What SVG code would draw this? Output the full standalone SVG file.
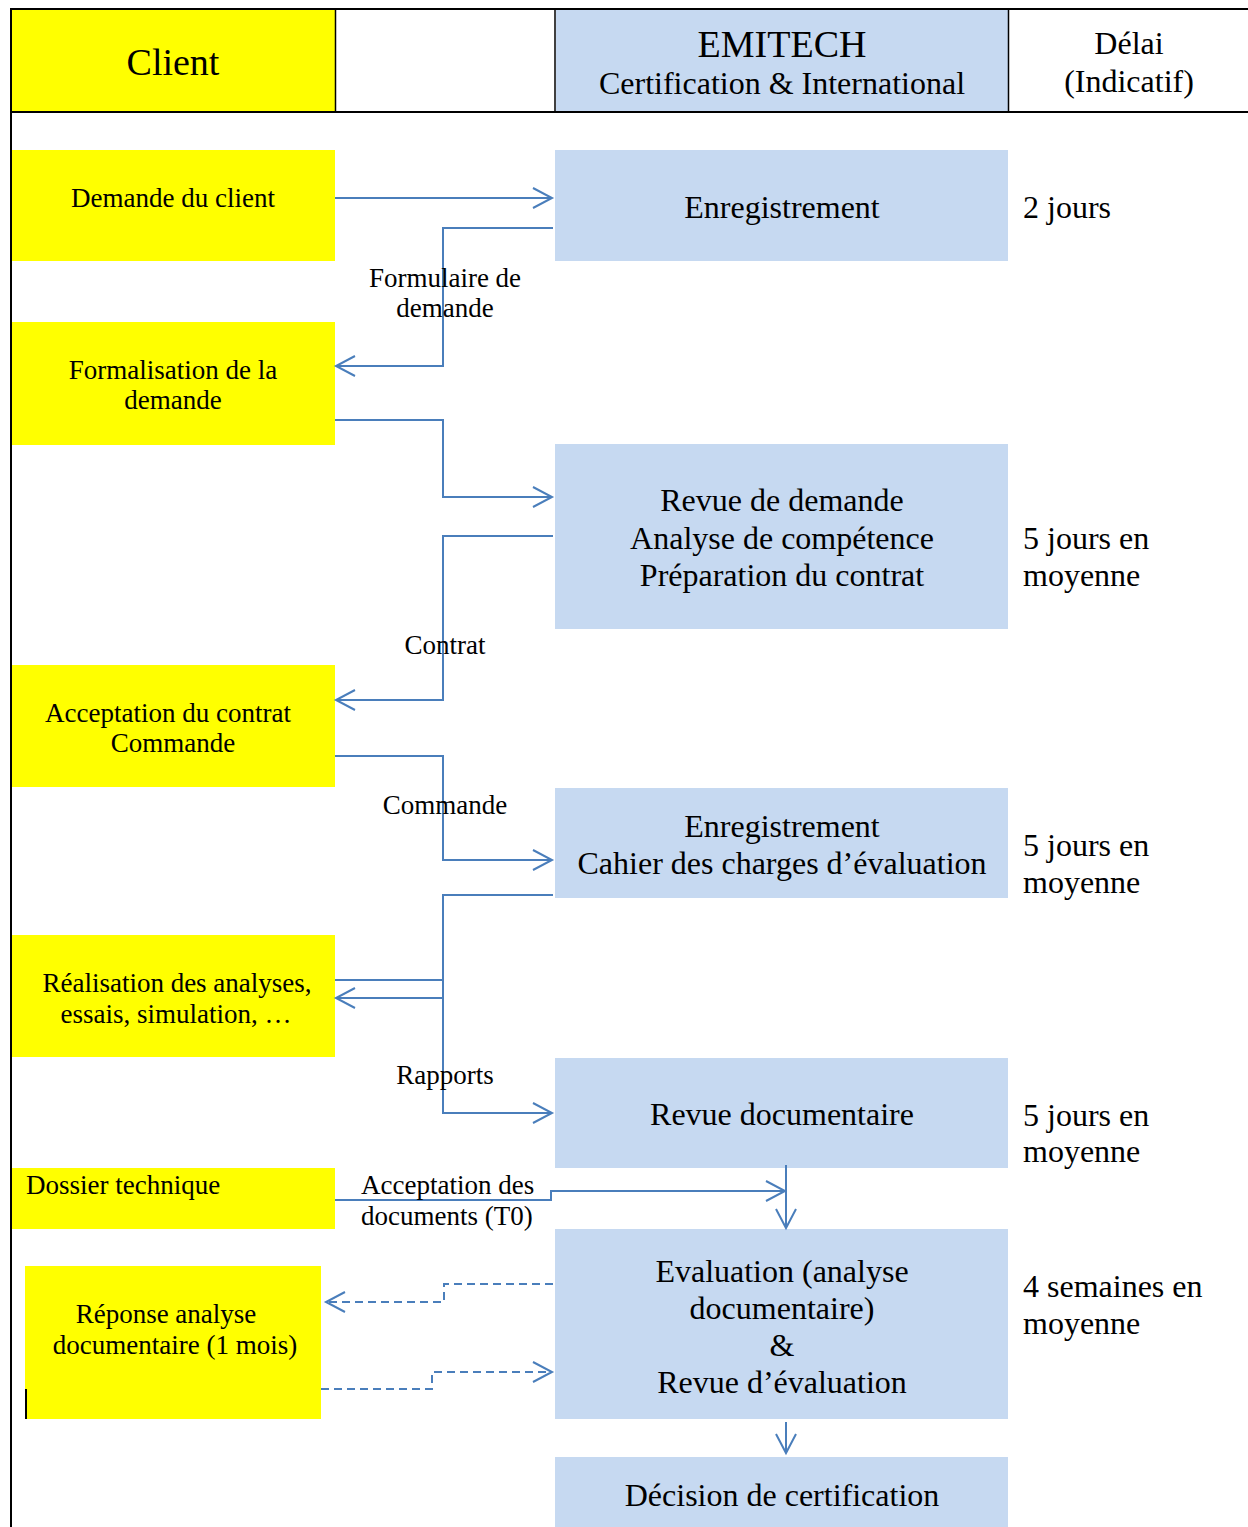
<svg xmlns="http://www.w3.org/2000/svg" width="1248" height="1527" viewBox="0 0 1248 1527">
<defs>
<style>
.y{fill:#ffff00}
.b{fill:#c6d9f1}
.t{font-family:"Liberation Serif","Times New Roman",serif;fill:#000}
.h{font-size:38px}
.h2{font-size:32px}
.n{font-size:27px;text-anchor:middle}
.m{font-size:32px;text-anchor:middle}
.d{font-size:32px}
.l{font-size:27px;text-anchor:middle}
.c{fill:none;stroke:#4a7ebb;stroke-width:2}
.dash{stroke-dasharray:8 5}
.frame{stroke:#000;fill:none}
</style>
<marker id="ah" viewBox="0 0 24 24" markerWidth="24" markerHeight="24" refX="21" refY="12" orient="auto" markerUnits="userSpaceOnUse">
<path d="M2,2 L21,12 L2,22" fill="none" stroke="#4a7ebb" stroke-width="2"/>
</marker>
</defs>
<rect width="1248" height="1527" fill="#fff"/>

<g id="header">
<rect class="y" x="12" y="10" width="323" height="101"/>
<rect class="b" x="556" y="10" width="452" height="101"/>
<line class="frame" x1="10" y1="9" x2="1248" y2="9" stroke-width="2"/>
<line class="frame" x1="10" y1="112" x2="1248" y2="112" stroke-width="2"/>
<line class="frame" x1="11" y1="8" x2="11" y2="1527" stroke-width="2"/>
<line class="frame" x1="335.5" y1="9" x2="335.5" y2="112" stroke-width="1.5"/>
<line class="frame" x1="555" y1="9" x2="555" y2="112" stroke-width="1.5"/>
<line class="frame" x1="1008.5" y1="9" x2="1008.5" y2="112" stroke-width="1.5"/>
<text class="t h" x="173" y="75" text-anchor="middle">Client</text>
<text class="t h" x="782" y="57" text-anchor="middle">EMITECH</text>
<text class="t h2" x="782" y="94" text-anchor="middle">Certification &amp; International</text>
<text class="t h2" x="1129" y="54" text-anchor="middle">Délai</text>
<text class="t h2" x="1129" y="92" text-anchor="middle">(Indicatif)</text>
</g>

<g id="n-demande">
<rect class="y" x="12" y="150" width="323" height="111"/>
<text class="t n" x="173" y="207">Demande du client</text>
</g>
<g id="n-formalisation">
<rect class="y" x="12" y="322" width="323" height="123"/>
<text class="t n" x="173" y="379">Formalisation de la</text>
<text class="t n" x="173" y="409">demande</text>
</g>
<g id="n-acceptation">
<rect class="y" x="12" y="665" width="323" height="122"/>
<text class="t n" x="168" y="722">Acceptation du contrat</text>
<text class="t n" x="173" y="752">Commande</text>
</g>
<g id="n-realisation">
<rect class="y" x="12" y="935" width="323" height="122"/>
<text class="t n" x="177" y="992">Réalisation des analyses,</text>
<text class="t n" x="176" y="1023">essais, simulation, …</text>
</g>
<g id="n-dossier">
<rect class="y" x="12" y="1168" width="323" height="61"/>
<text class="t" x="26" y="1194" font-size="27">Dossier technique</text>
</g>
<g id="n-reponse">
<rect class="y" x="25" y="1266" width="296" height="153"/>
<line x1="26" y1="1389" x2="26" y2="1419" stroke="#000" stroke-width="2"/>
<text class="t n" x="166" y="1323">Réponse analyse</text>
<text class="t n" x="175" y="1354">documentaire (1 mois)</text>
</g>

<g id="n-enregistrement">
<rect class="b" x="555" y="150" width="453" height="111"/>
<text class="t m" x="782" y="218">Enregistrement</text>
</g>
<g id="n-revue">
<rect class="b" x="555" y="444" width="453" height="185"/>
<text class="t m" x="782" y="511">Revue de demande</text>
<text class="t m" x="782" y="549">Analyse de compétence</text>
<text class="t m" x="782" y="586">Préparation du contrat</text>
</g>
<g id="n-cahier">
<rect class="b" x="555" y="788" width="453" height="110"/>
<text class="t m" x="782" y="837">Enregistrement</text>
<text class="t m" x="782" y="874">Cahier des charges d’évaluation</text>
</g>
<g id="n-revuedoc">
<rect class="b" x="555" y="1058" width="453" height="110"/>
<text class="t m" x="782" y="1125">Revue documentaire</text>
</g>
<g id="n-evaluation">
<rect class="b" x="555" y="1229" width="453" height="190"/>
<text class="t m" x="782" y="1282">Evaluation (analyse</text>
<text class="t m" x="782" y="1319">documentaire)</text>
<text class="t m" x="782" y="1356">&amp;</text>
<text class="t m" x="782" y="1393">Revue d’évaluation</text>
</g>
<g id="n-decision">
<rect class="b" x="555" y="1457" width="453" height="70"/>
<text class="t m" x="782" y="1506">Décision de certification</text>
</g>

<g id="delais">
<text class="t d" x="1023" y="218">2 jours</text>
<text class="t d" x="1023" y="549">5 jours en</text>
<text class="t d" x="1023" y="586">moyenne</text>
<text class="t d" x="1023" y="856">5 jours en</text>
<text class="t d" x="1023" y="893">moyenne</text>
<text class="t d" x="1023" y="1126">5 jours en</text>
<text class="t d" x="1023" y="1162">moyenne</text>
<text class="t d" x="1023" y="1297">4 semaines en</text>
<text class="t d" x="1023" y="1334">moyenne</text>
</g>

<g id="connectors">
<path class="c" d="M335,198 H552" marker-end="url(#ah)"/>
<path class="c" d="M553,228 H443 V366 H336" marker-end="url(#ah)"/>
<path class="c" d="M335,420 H443 V497 H552" marker-end="url(#ah)"/>
<path class="c" d="M553,536 H443 V700 H336" marker-end="url(#ah)"/>
<path class="c" d="M335,756 H443 V860 H552" marker-end="url(#ah)"/>
<path class="c" d="M553,895 H443 V998 H336" marker-end="url(#ah)"/>
<path class="c" d="M335,980 H443 V1113 H552" marker-end="url(#ah)"/>
<path class="c" d="M335,1200 H551 V1191 H785" marker-end="url(#ah)"/>
<path class="c" d="M786,1165 V1228" marker-end="url(#ah)"/>
<path class="c dash" d="M553,1284 H444 V1302 H326" marker-end="url(#ah)"/>
<path class="c dash" d="M321,1389 H432 V1372 H552" marker-end="url(#ah)"/>
<path class="c" d="M786,1422 V1453" stroke-width="1.5" marker-end="url(#ah)"/>
<text class="t l" x="445" y="287">Formulaire de</text>
<text class="t l" x="445" y="317">demande</text>
<text class="t l" x="445" y="654">Contrat</text>
<text class="t l" x="445" y="814">Commande</text>
<text class="t l" x="445" y="1084">Rapports</text>
<text class="t" x="361" y="1194" font-size="27">Acceptation des</text>
<text class="t" x="361" y="1225" font-size="27">documents (T0)</text>
</g>
</svg>
